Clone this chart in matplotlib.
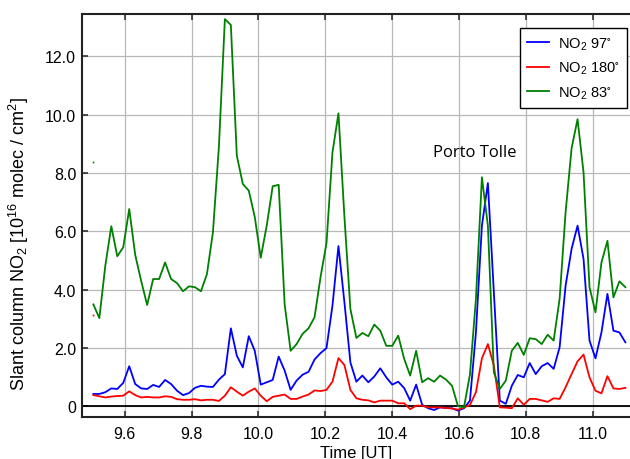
import numpy as np
import matplotlib as mpl
mpl.use("Agg")
import matplotlib.pyplot as plt

plt.rcParams["font.family"] = ["Liberation Sans", "DejaVu Sans"]
plt.rcParams["mathtext.default"] = "regular"

# slant columns [1e16 molec/cm2], one sample about every 64 s
T_START = 9.5063
T_END = 11.0977

no2_97 = [
    0.43, 0.43, 0.49, 0.62, 0.60, 0.81, 1.38, 0.77, 0.62, 0.60,
    0.74, 0.67, 0.91, 0.77, 0.54, 0.39, 0.46, 0.64, 0.71, 0.68,
    0.67, 0.92, 1.11, 2.68, 1.74, 1.34, 2.41, 1.91, 0.75, 0.83,
    0.91, 1.71, 1.23, 0.57, 0.89, 1.09, 1.19, 1.61, 1.83, 2.00,
    3.46, 5.50, 3.57, 1.51, 0.85, 1.06, 0.83, 1.03, 1.31, 1.00,
    0.75, 0.85, 0.63, 0.20, 0.75, 0.06, -0.06, -0.12, -0.03, -0.05,
    -0.06, -0.14, -0.06, 0.20, 2.54, 6.20, 7.66, 3.91, 0.20, 0.09,
    0.71, 1.08, 1.00, 1.49, 1.11, 1.38, 1.49, 1.29, 2.03, 4.14,
    5.40, 6.20, 5.06, 2.26, 1.65, 2.54, 3.86, 2.60, 2.54, 2.20,
]

no2_180 = [
    0.39, 0.35, 0.31, 0.34, 0.36, 0.37, 0.52, 0.39, 0.31, 0.33,
    0.31, 0.31, 0.35, 0.33, 0.25, 0.23, 0.23, 0.25, 0.21, 0.23,
    0.23, 0.19, 0.37, 0.66, 0.51, 0.37, 0.51, 0.62, 0.37, 0.18,
    0.33, 0.37, 0.41, 0.26, 0.26, 0.34, 0.41, 0.55, 0.53, 0.57,
    0.85, 1.66, 1.42, 0.57, 0.28, 0.23, 0.21, 0.14, 0.20, 0.20,
    0.20, 0.11, 0.11, -0.09, 0.03, 0.03, -0.03, -0.03, -0.03, -0.05,
    -0.07, -0.11, -0.03, 0.05, 0.49, 1.65, 2.14, 1.40, -0.03, -0.04,
    -0.06, 0.28, 0.06, 0.26, 0.26, 0.21, 0.16, 0.28, 0.26, 0.66,
    1.11, 1.55, 1.78, 1.00, 0.54, 0.45, 1.04, 0.62, 0.60, 0.64,
]

no2_83 = [
    3.50, 3.03, 4.83, 6.18, 5.15, 5.46, 6.77, 5.20, 4.30, 3.48,
    4.37, 4.37, 4.94, 4.37, 4.23, 3.95, 4.12, 4.09, 3.95, 4.54,
    5.97, 8.90, 13.28, 13.08, 8.60, 7.63, 7.40, 6.50, 5.10, 6.20,
    7.55, 7.60, 3.50, 1.91, 2.14, 2.49, 2.68, 3.06, 4.43, 5.60,
    8.71, 10.05, 6.50, 3.34, 2.35, 2.52, 2.41, 2.81, 2.60, 2.08,
    2.08, 2.43, 1.63, 1.06, 1.91, 0.83, 0.97, 0.85, 1.06, 0.92,
    0.71, 0.01, -0.03, 1.10, 3.69, 7.86, 6.20, 1.17, 0.60, 0.89,
    1.91, 2.18, 1.77, 2.34, 2.31, 2.14, 2.46, 2.26, 3.69, 6.66,
    8.85, 9.85, 8.03, 4.09, 3.23, 4.94, 5.68, 3.74, 4.29, 4.09,
]

# lone first readings, separated from the rest of the series
first_180 = 3.15
first_83 = 8.37

x_ticks = [9.6, 9.8, 10.0, 10.2, 10.4, 10.6, 10.8, 11.0]
y_ticks = [0, 2, 4, 6, 8, 10, 12]
y_tick_labels = ["0", "2.0", "4.0", "6.0", "8.0", "10.0", "12.0"]

t = np.linspace(T_START, T_END, len(no2_97))

fig = plt.figure(figsize=(6.3, 4.6), dpi=100)
ax = fig.add_axes([81.7 / 630, 42.3 / 460, 548.3 / 630, 402.7 / 460])

ax.plot(t, no2_97, color="#0000ff", lw=1.3, label="NO$_2$ 97$^{\\circ}$", zorder=3)
ax.plot(t, no2_180, color="#ff0000", lw=1.3, label="NO$_2$ 180$^{\\circ}$", zorder=3)
ax.plot(t, no2_83, color="#008000", lw=1.3, label="NO$_2$ 83$^{\\circ}$", zorder=3)
ax.plot([t[0]], [first_180], "s", color="#ff0000", ms=1.2, mew=0, zorder=3)
ax.plot([t[0]], [first_83], "s", color="#008000", ms=1.2, mew=0, zorder=3)

ax.axhline(0, color="black", lw=1.3, zorder=2)

ax.set_xlim(9.4714, 9.4714 + 548.3 / 334.3)
ax.set_ylim(-0.35, 13.456)
ax.set_xticks(x_ticks)
ax.set_xticklabels([f"{v:.1f}" for v in x_ticks])
ax.set_yticks(y_ticks)
ax.set_yticklabels(y_tick_labels)

ax.grid(True, color="#b8b8b8", lw=0.9, zorder=1)
ax.set_axisbelow(True)

for side in ["left", "top", "bottom"]:
    ax.spines[side].set_linewidth(1.5)
    ax.spines[side].set_color("#222222")
ax.spines["right"].set_visible(False)

ax.tick_params(axis="both", direction="in", length=4.5, width=1.1,
               labelsize=11.5, color="#222222")
ax.tick_params(axis="x", top=True, pad=7)
ax.tick_params(axis="y", pad=4)

ax.set_xlabel("Time [UT]", fontsize=12, labelpad=2.5)
ax.set_ylabel("Slant column NO$_2$ [10$^{16}$ molec / cm$^2$]", fontsize=13)
ax.yaxis.set_label_coords(-0.093, 0.431)

ax.text(10.648, 8.71, "Porto Tolle", fontsize=12, family="Open Sans",
        ha="center", va="center")

leg = ax.legend(loc="upper right", bbox_to_anchor=(0.995, 0.9645),
                borderaxespad=0, fancybox=False, framealpha=1,
                edgecolor="black", fontsize=10.5, handlelength=1.5,
                handletextpad=0.6, labelspacing=0.55, borderpad=0.5)
leg.get_frame().set_linewidth(1.0)

fig.savefig("out.png", dpi=100)
